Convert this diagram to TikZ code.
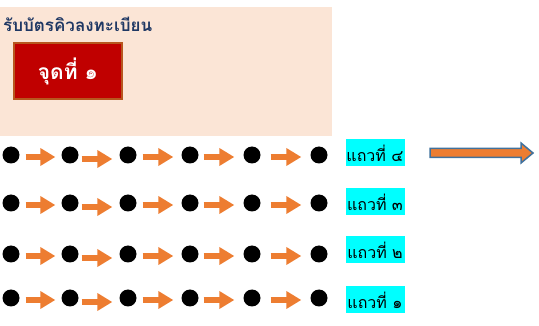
\documentclass[tikz,border=0pt]{standalone}
\usepackage{fontspec}
\newfontfamily\thaifont[Script=Thai]{Loma}
\usetikzlibrary{arrows.meta, positioning}
\definecolor{peach}{RGB}{251,229,214}
\definecolor{navytitle}{RGB}{31,56,100}
\definecolor{boxred}{RGB}{192,0,0}
\definecolor{boxrim}{RGB}{183,86,30}
\definecolor{flowor}{RGB}{237,125,49}
\definecolor{rimblue}{RGB}{65,113,156}
\definecolor{aqua}{RGB}{0,255,255}

\begin{document}
\begin{tikzpicture}[x=1pt,y=-1pt,
    dot/.style={circle,fill=black,inner sep=0pt,minimum size=17pt},
    flow/.style={flowor,line width=6pt,-{Triangle[width=17pt,length=15pt]}},
    rowlabel/.style={fill=aqua,inner sep=0pt,minimum width=59pt,minimum height=27pt,font=\thaifont\fontsize{16}{19}\selectfont}]
    \useasboundingbox (0,0) rectangle (539,326);
    % Registration area
    \fill[peach] (0,7) rectangle (332,136);
    \node[anchor=west,inner sep=0pt,text=navytitle,font=\thaifont\bfseries\fontsize{17}{20}\selectfont] (title) at (3,24) {รับบัตรคิวลงทะเบียน};
    \node[fill=boxred,draw=boxrim,line width=2pt,minimum width=108pt,minimum height=56pt,text=white,font=\thaifont\bfseries\fontsize{21}{25}\selectfont] (desk) at (68,71) {จุดที่ ๑};
    % Queue rows: dots, arrows and labels
    \foreach \r/\y/\ly/\n in {1/155/153/๔, 2/203/202/๓, 3/254/250/๒, 4/298/300/๑} {
        \foreach \i/\x in {1/11, 2/70, 3/128, 4/190, 5/252, 6/319}
            \node[dot] (d\r-\i) at (\x,\y) {};
        \foreach \i/\j/\a/\b/\o in {1/2/6/6/2, 2/3/3/7/4, 3/4/6/8/2, 4/5/5/9/2, 5/6/10/9/2}
            \draw[flow,shorten <=\a pt,shorten >=\b pt] ([yshift=-\o pt]d\r-\i.east) -- ([yshift=-\o pt]d\r-\j.west);
        \node[rowlabel] (lab\r) at (375,\ly) {แถวที่ \n};
    }
    % Direction arrow
    \draw[rimblue,fill=flowor,line width=1.5pt,line join=miter]
        (430,148.5) -- (521,148.5) -- (521,143) -- (533,153) -- (521,163) -- (521,157.5) -- (430,157.5) -- cycle;
\end{tikzpicture}
\end{document}
